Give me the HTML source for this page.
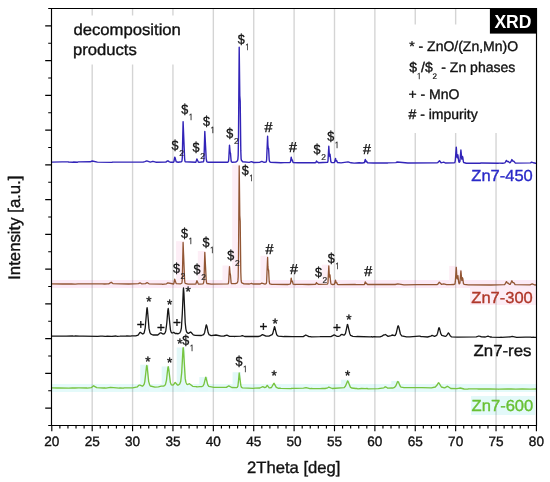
<!DOCTYPE html>
<html><head><meta charset="utf-8"><title>XRD</title>
<style>html,body{margin:0;padding:0;background:#fff;}body{width:550px;height:482px;overflow:hidden;}svg{display:block;}</style>
</head><body>
<svg width="550" height="482" viewBox="0 0 550 482" text-rendering="geometricPrecision">
<rect width="550" height="482" fill="#ffffff"/>
<rect x="52" y="280" width="484" height="8" fill="#fceaf6"/>
<rect x="52" y="384" width="484" height="8" fill="#e4fafa"/>
<rect x="176.1" y="241.2" width="8.0" height="46.0" fill="#fdeef6"/>
<rect x="197.8" y="251.0" width="8.0" height="36.2" fill="#fdeef6"/>
<rect x="222.5" y="265.5" width="8.0" height="21.8" fill="#fdeef6"/>
<rect x="232.2" y="164.5" width="8.0" height="122.8" fill="#fdeef6"/>
<rect x="260.5" y="255.8" width="8.0" height="31.6" fill="#fdeef6"/>
<rect x="321.8" y="264.7" width="8.0" height="22.8" fill="#fdeef6"/>
<rect x="449.2" y="265.9" width="8.0" height="22.0" fill="#fdeef6"/>
<rect x="453.9" y="269.7" width="8.0" height="18.2" fill="#fdeef6"/>
<rect x="140.3" y="364.7" width="8.5" height="26.5" fill="#e2f8f8"/>
<rect x="161.7" y="366.5" width="8.5" height="24.8" fill="#e2f8f8"/>
<rect x="176.7" y="347.5" width="8.5" height="43.8" fill="#e2f8f8"/>
<rect x="199.3" y="377.1" width="8.5" height="14.2" fill="#e2f8f8"/>
<rect x="232.6" y="372.2" width="8.5" height="19.2" fill="#e2f8f8"/>
<rect x="341.1" y="379.7" width="8.5" height="12.0" fill="#e2f8f8"/>
<rect x="391.3" y="380.9" width="8.5" height="10.9" fill="#e2f8f8"/>
<rect x="470" y="288" width="66" height="17" fill="#fdedf5"/>
<rect x="471" y="396" width="64" height="19" fill="#e3f9f9"/>
<line x1="92.19" y1="8.5" x2="92.19" y2="425.5" stroke="#000" stroke-opacity="0.17" stroke-width="1.4"/>
<line x1="132.57" y1="8.5" x2="132.57" y2="425.5" stroke="#000" stroke-opacity="0.17" stroke-width="1.4"/>
<line x1="172.95" y1="8.5" x2="172.95" y2="425.5" stroke="#000" stroke-opacity="0.17" stroke-width="1.4"/>
<line x1="213.34" y1="8.5" x2="213.34" y2="425.5" stroke="#000" stroke-opacity="0.17" stroke-width="1.4"/>
<line x1="253.73" y1="8.5" x2="253.73" y2="425.5" stroke="#000" stroke-opacity="0.17" stroke-width="1.4"/>
<line x1="294.11" y1="8.5" x2="294.11" y2="425.5" stroke="#000" stroke-opacity="0.17" stroke-width="1.4"/>
<line x1="334.50" y1="8.5" x2="334.50" y2="425.5" stroke="#000" stroke-opacity="0.17" stroke-width="1.4"/>
<line x1="374.88" y1="8.5" x2="374.88" y2="425.5" stroke="#000" stroke-opacity="0.17" stroke-width="1.4"/>
<line x1="415.26" y1="8.5" x2="415.26" y2="425.5" stroke="#000" stroke-opacity="0.17" stroke-width="1.4"/>
<line x1="455.65" y1="8.5" x2="455.65" y2="425.5" stroke="#000" stroke-opacity="0.17" stroke-width="1.4"/>
<line x1="496.04" y1="8.5" x2="496.04" y2="425.5" stroke="#000" stroke-opacity="0.17" stroke-width="1.4"/>
<rect x="395" y="24.5" width="140" height="108.5" fill="#fff"/>
<rect x="68" y="15.5" width="120" height="49" fill="#fff"/>
<polyline points="51.8,162.1 62.1,161.9 68.3,161.9 68.6,162.1 73.1,162.2 73.4,162.0 77.6,162.2 78.3,161.9 90.2,161.8 92.2,161.0 97.4,162.1 111.9,162.4 112.5,162.1 143.2,162.1 144.8,161.6 146.8,160.9 150.3,162.1 152.9,161.3 155.8,162.2 165.8,162.1 167.5,160.9 168.1,160.9 169.4,161.8 170.4,162.2 173.6,162.2 173.9,161.7 174.7,157.3 174.9,157.3 176.2,161.8 178.1,162.2 181.4,161.7 181.7,161.5 182.0,160.8 182.3,157.8 183.1,121.6 184.6,158.2 184.9,161.0 185.2,161.7 195.6,162.3 195.9,162.1 196.9,159.0 198.2,161.8 199.1,162.4 203.3,161.8 203.6,161.3 204.0,158.9 204.8,131.4 206.2,158.5 206.6,161.1 206.9,161.8 207.8,162.2 227.9,162.2 228.5,161.3 228.8,158.5 229.5,145.1 230.1,152.1 230.5,153.3 231.1,160.8 231.4,161.8 232.1,162.2 235.6,162.1 236.9,161.3 237.6,160.4 237.9,159.2 238.2,155.1 238.5,136.6 239.2,47.3 239.8,95.7 240.2,101.1 240.8,150.9 241.1,158.6 241.4,160.3 242.7,161.8 249.2,162.4 251.5,161.6 253.7,162.5 259.5,162.4 261.8,161.4 264.1,162.4 266.0,162.0 266.3,161.7 266.6,160.2 267.6,136.3 267.9,145.1 268.3,148.6 268.6,148.5 269.2,159.8 269.6,161.6 270.5,162.3 280.9,162.8 284.1,162.6 289.9,162.5 290.2,162.3 290.6,161.4 291.2,157.2 291.8,160.1 292.2,159.8 293.1,162.5 298.0,162.8 299.6,162.6 309.6,162.8 309.9,162.6 315.4,162.7 315.8,162.5 316.5,161.0 317.0,162.0 317.7,161.9 318.3,162.7 327.4,162.3 327.7,162.1 328.0,160.8 328.8,146.3 329.3,154.6 329.6,156.2 330.0,154.1 330.9,161.9 331.9,162.6 334.2,162.6 334.5,162.3 335.5,158.4 336.1,161.1 336.4,160.6 336.8,160.6 337.4,162.5 341.0,162.9 348.1,161.9 351.0,162.8 354.2,163.1 359.0,162.8 362.3,163.0 363.6,162.8 363.9,162.9 364.5,162.3 365.3,159.5 365.8,161.6 366.2,161.7 366.5,161.1 367.4,162.7 373.6,163.0 380.0,162.9 387.5,163.0 387.8,162.9 395.9,162.6 397.2,162.0 407.8,163.0 436.9,162.9 437.6,162.7 439.5,160.8 441.1,162.7 442.7,162.4 443.7,162.1 445.3,163.0 454.4,162.7 454.7,162.6 455.0,162.0 455.3,160.3 456.3,147.1 456.9,157.0 457.3,157.7 457.6,155.5 457.9,154.8 458.6,160.5 458.9,161.9 459.2,162.2 459.5,162.2 459.9,161.5 460.9,150.0 461.8,159.1 462.4,156.4 462.8,157.3 463.4,161.8 463.7,162.5 466.3,163.2 471.5,163.3 480.5,163.2 480.9,163.0 498.6,163.2 498.9,163.1 502.8,163.3 504.8,162.9 505.4,162.1 506.4,160.4 507.3,161.5 508.3,161.5 509.6,162.7 510.3,162.5 510.9,161.7 511.9,159.6 512.8,161.0 513.8,161.2 515.4,163.1 530.6,162.9 531.6,162.1 533.5,162.8 535.5,163.3 536.4,163.3" fill="none" stroke="#3224b8" stroke-width="1.4" stroke-linejoin="round"/>
<polyline points="51.8,283.8 62.5,284.0 71.5,283.8 75.1,284.1 78.0,283.9 80.2,283.8 82.8,283.9 95.1,283.8 102.2,283.9 104.5,284.0 107.4,283.8 108.7,283.9 111.2,282.2 112.9,283.6 128.7,284.0 138.4,283.6 140.0,282.8 141.6,283.8 145.5,283.6 146.8,282.7 147.4,282.7 149.0,283.8 162.0,284.1 162.3,284.3 166.5,283.8 167.8,282.9 173.6,284.0 173.9,283.5 174.7,279.1 176.2,283.6 180.7,283.8 181.7,283.2 182.0,282.6 182.3,279.4 183.1,242.5 184.6,279.9 184.9,282.7 185.2,283.3 188.1,284.1 195.6,284.0 195.9,283.9 196.2,283.1 196.9,280.7 198.2,283.6 198.5,284.0 199.8,284.2 203.0,283.8 203.6,282.9 204.0,280.5 204.8,252.3 206.2,280.1 206.6,282.9 206.9,283.5 211.1,284.2 227.9,283.9 228.2,283.7 228.5,283.1 228.8,280.2 229.5,266.7 230.1,273.7 230.5,275.0 231.1,282.6 231.4,283.6 235.3,283.7 236.9,283.1 237.6,282.1 237.9,280.9 238.2,276.7 238.5,257.6 239.2,165.8 239.8,215.6 240.2,221.0 240.8,272.3 241.1,280.2 241.4,282.1 241.8,282.8 244.0,283.9 249.5,284.0 251.5,283.3 252.8,284.0 260.2,284.0 261.8,283.1 265.0,284.1 266.0,283.7 266.3,283.5 266.6,281.9 267.6,257.5 267.9,266.4 268.3,270.0 268.6,269.9 269.2,281.5 269.6,283.3 269.9,283.8 271.8,284.3 275.0,284.3 287.6,284.5 289.9,284.2 290.2,284.0 290.6,283.0 291.2,278.1 291.8,281.5 292.2,281.0 292.5,281.7 293.1,284.1 295.4,284.5 296.0,284.3 302.2,284.4 308.6,284.5 315.4,284.4 316.1,283.5 316.5,282.5 317.0,283.7 317.7,283.6 318.3,284.4 327.1,284.2 327.7,283.8 328.0,282.4 328.8,265.9 329.3,275.4 329.6,277.1 330.0,274.8 330.6,281.7 330.9,283.5 331.3,284.2 332.6,284.5 334.2,284.3 334.5,284.1 335.5,280.1 336.1,282.9 336.4,282.4 336.8,282.6 337.4,284.3 338.4,284.6 355.5,284.5 355.8,284.7 364.2,284.5 364.5,284.2 365.3,281.8 365.8,283.4 366.2,283.6 366.5,283.2 367.4,284.5 395.2,284.5 397.8,283.9 404.0,284.8 417.2,284.7 436.9,284.7 437.9,284.2 439.3,282.2 441.4,284.3 443.7,283.9 446.6,284.7 450.2,284.7 454.0,284.5 454.7,284.2 455.0,283.6 455.3,281.7 456.3,267.3 456.9,278.2 457.3,278.9 457.6,276.5 457.9,275.6 458.6,281.8 458.9,283.3 459.2,283.8 459.5,283.7 459.9,283.1 460.9,270.8 461.8,280.5 462.4,277.7 462.8,278.5 463.4,283.4 464.1,284.4 468.3,284.9 490.9,285.0 504.1,284.7 504.8,284.5 506.4,281.6 506.7,281.8 507.3,283.0 507.7,283.1 508.0,283.0 509.6,284.4 510.3,284.3 511.9,280.8 512.8,282.5 513.8,282.7 515.1,284.6 530.0,284.8 532.2,283.8 534.8,285.0 536.4,284.9" fill="none" stroke="#925634" stroke-width="1.3" stroke-linejoin="round"/>
<polyline points="51.8,336.1 66.3,336.2 72.8,336.0 73.1,336.2 74.7,336.2 75.4,335.9 79.3,336.2 80.6,336.2 82.8,336.1 97.7,336.3 100.6,336.2 102.5,336.2 105.1,336.3 106.7,336.3 107.0,336.1 111.6,336.3 111.9,336.4 116.1,336.0 117.1,336.3 120.0,336.2 120.3,336.1 125.8,336.2 126.8,336.0 130.3,336.2 131.9,335.8 135.8,335.8 138.1,335.1 140.0,332.4 140.6,332.4 142.6,334.0 143.6,333.6 144.2,332.6 145.2,328.1 146.8,309.2 147.1,307.7 147.4,309.3 149.0,328.4 150.0,332.8 151.0,334.2 152.9,335.0 156.8,335.0 157.8,335.0 160.4,332.8 161.0,332.9 162.9,334.0 164.2,333.9 165.2,332.6 165.8,330.7 166.8,323.0 167.8,310.6 168.2,308.5 168.4,309.3 170.4,329.6 171.0,331.9 171.7,332.8 172.3,333.0 173.7,332.3 175.2,333.5 177.2,333.5 177.8,333.8 179.7,333.0 180.7,331.2 181.4,328.0 182.3,313.5 183.3,289.7 183.5,287.9 183.9,292.7 185.2,322.7 185.9,329.1 186.5,331.7 187.8,333.2 188.5,333.4 190.5,332.0 191.0,332.3 193.3,334.9 195.2,335.4 201.4,335.5 203.6,334.6 204.6,332.7 206.2,325.0 206.4,324.9 206.9,326.2 208.2,332.8 209.1,334.7 211.1,335.6 215.9,335.0 221.1,336.2 224.0,336.0 226.9,335.2 229.5,336.3 233.7,336.3 234.3,336.5 235.3,336.3 240.8,336.2 242.4,335.7 244.7,336.5 247.6,336.5 258.2,336.5 259.9,336.2 262.4,334.6 263.1,334.8 266.0,336.2 268.9,336.2 272.1,334.7 272.8,333.4 274.5,326.7 274.7,327.0 276.7,334.8 278.3,336.2 283.8,336.7 284.7,336.4 292.5,336.7 303.2,336.6 305.8,335.0 309.0,336.6 310.6,336.6 311.2,336.9 320.0,336.7 320.3,336.6 323.5,336.7 330.9,336.6 334.2,334.9 336.8,336.3 338.7,336.3 339.7,336.0 341.3,334.6 341.9,334.4 343.9,335.2 344.5,334.9 345.5,333.3 347.4,324.5 347.7,324.6 349.7,333.4 350.6,335.4 352.9,336.3 356.5,336.6 356.8,336.5 370.4,336.8 370.7,336.9 371.6,336.7 372.3,337.0 374.2,336.7 376.8,336.8 380.0,336.8 382.0,336.1 383.6,335.0 384.2,335.0 385.4,334.5 388.1,336.4 391.0,335.6 392.1,335.0 394.6,335.7 395.2,335.4 396.2,333.4 397.8,326.4 398.2,325.7 398.8,327.0 400.4,334.0 401.7,335.9 406.5,336.9 409.8,336.8 419.1,336.1 419.8,336.1 421.1,336.7 422.7,336.6 427.5,337.0 430.8,336.1 432.1,335.4 434.6,336.3 436.6,335.4 437.6,333.2 438.8,328.0 439.1,327.7 439.5,328.4 440.8,333.7 441.8,335.4 445.3,336.3 446.0,336.2 446.9,335.1 448.4,332.9 448.9,333.4 450.2,335.8 451.4,336.8 457.6,337.1 476.3,336.9 478.9,336.0 480.2,336.4 481.5,336.9 485.4,337.0 488.0,336.1 490.2,337.0 490.9,336.9 491.8,337.2 499.9,337.3 501.2,337.2 501.5,337.3 510.3,336.9 512.2,336.4 513.2,336.6 516.7,337.3 525.4,337.1 530.9,337.1 531.3,337.3 533.5,337.2 534.5,337.3 536.4,337.3" fill="none" stroke="#161616" stroke-width="1.3" stroke-linejoin="round"/>
<polyline points="51.8,387.9 57.3,388.0 58.9,387.8 68.9,388.1 72.2,387.8 73.8,388.0 75.1,388.0 78.3,387.9 79.6,387.9 86.7,388.0 87.0,388.1 89.6,387.8 91.2,387.7 93.6,385.8 96.7,387.7 103.5,388.0 104.8,387.8 105.8,388.1 110.6,387.3 119.3,388.1 120.0,387.8 123.5,388.1 124.2,387.8 127.1,387.8 132.6,387.8 137.4,386.8 139.0,385.1 140.0,385.2 142.3,386.2 143.2,385.7 144.2,384.2 144.8,381.6 146.5,366.5 146.8,365.4 147.1,366.5 148.7,381.6 149.7,385.0 150.3,386.0 154.9,387.1 158.4,386.8 161.3,386.1 163.3,386.2 164.6,385.7 165.5,384.4 166.5,380.1 167.8,368.2 168.2,366.6 168.8,369.6 170.4,382.6 171.3,384.8 173.0,385.1 173.9,384.2 174.9,382.7 175.2,382.5 177.5,385.0 178.4,385.1 179.7,384.0 180.7,381.5 181.7,372.6 183.0,348.9 183.2,347.6 183.6,351.1 185.2,378.4 185.9,382.2 186.8,384.2 187.8,384.5 189.4,383.7 192.7,386.3 196.2,386.7 196.5,386.6 197.2,386.8 199.8,386.6 201.7,386.6 203.0,386.0 204.0,384.2 205.6,377.6 205.9,377.3 207.8,384.8 208.8,386.4 212.7,387.1 213.7,387.4 226.3,387.3 228.8,385.9 231.8,387.5 236.3,387.7 237.2,387.3 237.9,386.2 238.5,380.7 239.2,373.0 240.8,385.2 241.4,387.2 242.4,387.8 253.4,388.3 255.0,388.1 259.9,388.0 262.8,386.7 264.7,387.6 266.0,387.1 267.0,385.6 267.3,385.4 269.2,387.8 269.9,387.9 271.5,387.5 273.8,383.4 274.1,383.3 276.3,387.3 278.6,388.3 279.6,388.1 280.9,388.4 291.2,388.6 291.5,388.4 295.7,388.4 303.5,388.2 306.1,387.6 309.9,388.6 311.9,388.5 312.2,388.6 320.3,388.6 322.2,388.4 325.1,388.5 327.7,387.8 328.8,387.1 332.2,388.5 344.2,387.6 345.5,386.0 347.6,380.9 348.1,381.4 350.3,387.1 351.6,388.0 355.8,388.5 357.1,388.5 357.8,388.8 361.6,388.5 365.2,388.7 367.1,388.5 368.1,388.8 378.4,388.6 383.9,387.8 384.9,387.0 385.5,386.8 386.5,387.3 387.8,388.2 392.0,387.9 392.6,388.1 394.6,387.3 395.9,385.8 397.5,381.7 397.8,381.5 398.5,382.3 400.1,386.0 401.0,387.1 404.0,387.7 404.3,387.6 411.7,387.7 422.0,387.6 431.4,387.8 435.3,387.0 436.9,385.3 438.2,383.1 438.6,382.8 439.2,383.3 441.4,387.0 444.3,387.9 445.0,387.6 445.3,387.6 447.3,386.3 448.2,386.7 450.8,388.5 456.9,388.6 458.2,388.3 458.9,388.4 460.2,388.0 464.1,389.0 467.9,389.1 468.3,388.9 477.0,388.8 478.6,389.0 490.2,389.0 498.3,389.1 498.6,389.3 498.9,389.1 507.7,388.9 508.6,389.0 511.2,388.9 515.7,389.1 522.2,389.0 530.0,389.1 530.6,389.2 536.1,389.0 536.4,389.2" fill="none" stroke="#78c440" stroke-width="1.35" stroke-linejoin="round"/>
<path d="M51.5,8.5 H536.5 V425.5 H51.5 Z" fill="none" stroke="#000" stroke-width="1.15"/>
<path d="M48.2,8.50H51.5 M45.2,25.88H51.5 M48.2,43.25H51.5 M45.2,60.62H51.5 M48.2,78.00H51.5 M45.2,95.38H51.5 M48.2,112.75H51.5 M45.2,130.12H51.5 M48.2,147.50H51.5 M45.2,164.88H51.5 M48.2,182.25H51.5 M45.2,199.62H51.5 M48.2,217.00H51.5 M45.2,234.38H51.5 M48.2,251.75H51.5 M45.2,269.12H51.5 M48.2,286.50H51.5 M45.2,303.88H51.5 M48.2,321.25H51.5 M45.2,338.62H51.5 M48.2,356.00H51.5 M45.2,373.38H51.5 M48.2,390.75H51.5 M45.2,408.12H51.5 M48.2,425.50H51.5 M51.80,425.5V431.3 M59.88,425.5V428.5 M67.95,425.5V428.5 M76.03,425.5V428.5 M84.11,425.5V428.5 M92.19,425.5V431.3 M100.26,425.5V428.5 M108.34,425.5V428.5 M116.42,425.5V428.5 M124.49,425.5V428.5 M132.57,425.5V431.3 M140.65,425.5V428.5 M148.72,425.5V428.5 M156.80,425.5V428.5 M164.88,425.5V428.5 M172.95,425.5V431.3 M181.03,425.5V428.5 M189.11,425.5V428.5 M197.19,425.5V428.5 M205.26,425.5V428.5 M213.34,425.5V431.3 M221.42,425.5V428.5 M229.49,425.5V428.5 M237.57,425.5V428.5 M245.65,425.5V428.5 M253.73,425.5V431.3 M261.80,425.5V428.5 M269.88,425.5V428.5 M277.96,425.5V428.5 M286.03,425.5V428.5 M294.11,425.5V431.3 M302.19,425.5V428.5 M310.26,425.5V428.5 M318.34,425.5V428.5 M326.42,425.5V428.5 M334.50,425.5V431.3 M342.57,425.5V428.5 M350.65,425.5V428.5 M358.73,425.5V428.5 M366.80,425.5V428.5 M374.88,425.5V431.3 M382.96,425.5V428.5 M391.03,425.5V428.5 M399.11,425.5V428.5 M407.19,425.5V428.5 M415.26,425.5V431.3 M423.34,425.5V428.5 M431.42,425.5V428.5 M439.50,425.5V428.5 M447.57,425.5V428.5 M455.65,425.5V431.3 M463.73,425.5V428.5 M471.80,425.5V428.5 M479.88,425.5V428.5 M487.96,425.5V428.5 M496.04,425.5V431.3 M504.11,425.5V428.5 M512.19,425.5V428.5 M520.27,425.5V428.5 M528.34,425.5V428.5 M536.42,425.5V431.3" stroke="#000" stroke-width="1.15" fill="none"/>
<text x="51.80" y="446.2" font-family="Liberation Sans, Arial, sans-serif" font-size="13.6" text-anchor="middle" fill="#111" stroke="#111" stroke-width="0.35">20</text>
<text x="92.19" y="446.2" font-family="Liberation Sans, Arial, sans-serif" font-size="13.6" text-anchor="middle" fill="#111" stroke="#111" stroke-width="0.35">25</text>
<text x="132.57" y="446.2" font-family="Liberation Sans, Arial, sans-serif" font-size="13.6" text-anchor="middle" fill="#111" stroke="#111" stroke-width="0.35">30</text>
<text x="172.95" y="446.2" font-family="Liberation Sans, Arial, sans-serif" font-size="13.6" text-anchor="middle" fill="#111" stroke="#111" stroke-width="0.35">35</text>
<text x="213.34" y="446.2" font-family="Liberation Sans, Arial, sans-serif" font-size="13.6" text-anchor="middle" fill="#111" stroke="#111" stroke-width="0.35">40</text>
<text x="253.73" y="446.2" font-family="Liberation Sans, Arial, sans-serif" font-size="13.6" text-anchor="middle" fill="#111" stroke="#111" stroke-width="0.35">45</text>
<text x="294.11" y="446.2" font-family="Liberation Sans, Arial, sans-serif" font-size="13.6" text-anchor="middle" fill="#111" stroke="#111" stroke-width="0.35">50</text>
<text x="334.50" y="446.2" font-family="Liberation Sans, Arial, sans-serif" font-size="13.6" text-anchor="middle" fill="#111" stroke="#111" stroke-width="0.35">55</text>
<text x="374.88" y="446.2" font-family="Liberation Sans, Arial, sans-serif" font-size="13.6" text-anchor="middle" fill="#111" stroke="#111" stroke-width="0.35">60</text>
<text x="415.26" y="446.2" font-family="Liberation Sans, Arial, sans-serif" font-size="13.6" text-anchor="middle" fill="#111" stroke="#111" stroke-width="0.35">65</text>
<text x="455.65" y="446.2" font-family="Liberation Sans, Arial, sans-serif" font-size="13.6" text-anchor="middle" fill="#111" stroke="#111" stroke-width="0.35">70</text>
<text x="496.04" y="446.2" font-family="Liberation Sans, Arial, sans-serif" font-size="13.6" text-anchor="middle" fill="#111" stroke="#111" stroke-width="0.35">75</text>
<text x="536.42" y="446.2" font-family="Liberation Sans, Arial, sans-serif" font-size="13.6" text-anchor="middle" fill="#111" stroke="#111" stroke-width="0.35">80</text>
<text x="247.0" y="473.1" font-family="Liberation Sans, Arial, sans-serif" font-size="16.5" fill="#111" stroke="#111" stroke-width="0.35" textLength="93.5" lengthAdjust="spacingAndGlyphs">2Theta [deg]</text>
<text transform="translate(19.9,279.8) rotate(-90)" font-family="Liberation Sans, Arial, sans-serif" font-size="16.8" fill="#111" stroke="#111" stroke-width="0.35" textLength="104.3" lengthAdjust="spacingAndGlyphs">Intensity [a.u.]</text>
<text x="73.4" y="35.3" font-family="Liberation Sans, Arial, sans-serif" font-size="16" fill="#111" stroke="#111" stroke-width="0.35" textLength="107.5" lengthAdjust="spacingAndGlyphs">decomposition</text>
<text x="73.0" y="55.4" font-family="Liberation Sans, Arial, sans-serif" font-size="16" fill="#111" stroke="#111" stroke-width="0.35" textLength="63.8" lengthAdjust="spacingAndGlyphs">products</text>
<rect x="489.9" y="8.1" width="47" height="25.5" fill="#000"/>
<text x="494.4" y="28.0" font-family="Liberation Sans, Arial, sans-serif" font-size="19" font-weight="bold" fill="#fff" textLength="37" lengthAdjust="spacingAndGlyphs">XRD</text>
<text x="409.2" y="51.4" font-family="Liberation Sans, Arial, sans-serif" font-size="14" fill="#111" stroke="#111" stroke-width="0.35">* - ZnO/(Zn,Mn)O</text>
<text x="409.3" y="71.6" font-family="Liberation Sans, Arial, sans-serif" font-size="14" fill="#111" stroke="#111" stroke-width="0.35">$</text>
<text x="416.4" y="78.7" font-family="NanumGothic, Liberation Sans, sans-serif" font-size="8.2" fill="#111" stroke="#111" stroke-width="0.2">1</text>
<text x="421.1" y="71.6" font-family="Liberation Sans, Arial, sans-serif" font-size="14" fill="#111" stroke="#111" stroke-width="0.35">/$</text>
<text x="432.5" y="79.0" font-family="Liberation Sans, Arial, sans-serif" font-size="8" fill="#111" stroke="#111" stroke-width="0.2">2</text>
<text x="441.3" y="71.6" font-family="Liberation Sans, Arial, sans-serif" font-size="14" fill="#111" stroke="#111" stroke-width="0.35" textLength="74" lengthAdjust="spacingAndGlyphs">- Zn phases</text>
<text x="408.4" y="99.0" font-family="Liberation Sans, Arial, sans-serif" font-size="14" fill="#111" stroke="#111" stroke-width="0.35">+ - MnO</text>
<text x="408.5" y="118.6" font-family="Liberation Sans, Arial, sans-serif" font-size="14" fill="#111" stroke="#111" stroke-width="0.35"># - impurity</text>
<text x="471.3" y="181.1" font-family="Liberation Sans, Arial, sans-serif" font-size="16" fill="#2a2ac8" stroke="#2a2ac8" stroke-width="0.35" textLength="61.5" lengthAdjust="spacingAndGlyphs">Zn7-450</text>
<text x="471.3" y="303.4" font-family="Liberation Sans, Arial, sans-serif" font-size="16" fill="#b0382a" stroke="#b0382a" stroke-width="0.35" textLength="61.5" lengthAdjust="spacingAndGlyphs">Zn7-300</text>
<text x="473.5" y="355.8" font-family="Liberation Sans, Arial, sans-serif" font-size="16" fill="#111" stroke="#111" stroke-width="0.35" textLength="58" lengthAdjust="spacingAndGlyphs">Zn7-res</text>
<text x="471.6" y="410.7" font-family="Liberation Sans, Arial, sans-serif" font-size="16" fill="#68c034" stroke="#68c034" stroke-width="0.35" textLength="61.7" lengthAdjust="spacingAndGlyphs">Zn7-600</text>
<text x="237.7" y="43.6" font-family="Liberation Sans, Arial, sans-serif" font-size="13.8" fill="#111" stroke="#111" stroke-width="0.35" textLength="7.0" lengthAdjust="spacingAndGlyphs">$</text>
<text x="244.7" y="49.9" font-family="NanumGothic, Liberation Sans, sans-serif" font-size="8.4" fill="#222" stroke="#222" stroke-width="0.2">1</text>
<text x="171.5" y="150.1" font-family="Liberation Sans, Arial, sans-serif" font-size="13.8" fill="#111" stroke="#111" stroke-width="0.35" textLength="7.0" lengthAdjust="spacingAndGlyphs">$</text>
<text x="179.2" y="156.4" font-family="Liberation Sans, Arial, sans-serif" font-size="8.4" fill="#222" stroke="#222" stroke-width="0.2">2</text>
<text x="181.3" y="114.1" font-family="Liberation Sans, Arial, sans-serif" font-size="13.8" fill="#111" stroke="#111" stroke-width="0.35" textLength="7.0" lengthAdjust="spacingAndGlyphs">$</text>
<text x="188.3" y="120.4" font-family="NanumGothic, Liberation Sans, sans-serif" font-size="8.4" fill="#222" stroke="#222" stroke-width="0.2">1</text>
<text x="192.5" y="152.3" font-family="Liberation Sans, Arial, sans-serif" font-size="13.8" fill="#111" stroke="#111" stroke-width="0.35" textLength="7.0" lengthAdjust="spacingAndGlyphs">$</text>
<text x="200.2" y="158.6" font-family="Liberation Sans, Arial, sans-serif" font-size="8.4" fill="#222" stroke="#222" stroke-width="0.2">2</text>
<text x="203.1" y="126.3" font-family="Liberation Sans, Arial, sans-serif" font-size="13.8" fill="#111" stroke="#111" stroke-width="0.35" textLength="7.0" lengthAdjust="spacingAndGlyphs">$</text>
<text x="210.1" y="132.6" font-family="NanumGothic, Liberation Sans, sans-serif" font-size="8.4" fill="#222" stroke="#222" stroke-width="0.2">1</text>
<text x="226.3" y="137.7" font-family="Liberation Sans, Arial, sans-serif" font-size="13.8" fill="#111" stroke="#111" stroke-width="0.35" textLength="7.0" lengthAdjust="spacingAndGlyphs">$</text>
<text x="234.0" y="144.0" font-family="Liberation Sans, Arial, sans-serif" font-size="8.4" fill="#222" stroke="#222" stroke-width="0.2">2</text>
<text x="313.6" y="154.0" font-family="Liberation Sans, Arial, sans-serif" font-size="13.8" fill="#111" stroke="#111" stroke-width="0.35" textLength="7.0" lengthAdjust="spacingAndGlyphs">$</text>
<text x="321.3" y="160.3" font-family="Liberation Sans, Arial, sans-serif" font-size="8.4" fill="#222" stroke="#222" stroke-width="0.2">2</text>
<text x="327.2" y="141.4" font-family="Liberation Sans, Arial, sans-serif" font-size="13.8" fill="#111" stroke="#111" stroke-width="0.35" textLength="7.0" lengthAdjust="spacingAndGlyphs">$</text>
<text x="334.2" y="147.7" font-family="NanumGothic, Liberation Sans, sans-serif" font-size="8.4" fill="#222" stroke="#222" stroke-width="0.2">1</text>
<text x="264.4" y="131.6" font-family="Liberation Sans, Arial, sans-serif" font-size="14.3" fill="#111" stroke="#111" stroke-width="0.35">#</text>
<text x="289.0" y="151.6" font-family="Liberation Sans, Arial, sans-serif" font-size="14.3" fill="#111" stroke="#111" stroke-width="0.35">#</text>
<text x="362.9" y="154.0" font-family="Liberation Sans, Arial, sans-serif" font-size="14.3" fill="#111" stroke="#111" stroke-width="0.35">#</text>
<text x="172.9" y="272.6" font-family="Liberation Sans, Arial, sans-serif" font-size="13.8" fill="#111" stroke="#111" stroke-width="0.35" textLength="7.0" lengthAdjust="spacingAndGlyphs">$</text>
<text x="180.6" y="278.9" font-family="Liberation Sans, Arial, sans-serif" font-size="8.4" fill="#222" stroke="#222" stroke-width="0.2">2</text>
<text x="180.9" y="237.5" font-family="Liberation Sans, Arial, sans-serif" font-size="13.8" fill="#111" stroke="#111" stroke-width="0.35" textLength="7.0" lengthAdjust="spacingAndGlyphs">$</text>
<text x="187.9" y="243.8" font-family="NanumGothic, Liberation Sans, sans-serif" font-size="8.4" fill="#222" stroke="#222" stroke-width="0.2">1</text>
<text x="193.6" y="274.0" font-family="Liberation Sans, Arial, sans-serif" font-size="13.8" fill="#111" stroke="#111" stroke-width="0.35" textLength="7.0" lengthAdjust="spacingAndGlyphs">$</text>
<text x="201.3" y="280.3" font-family="Liberation Sans, Arial, sans-serif" font-size="8.4" fill="#222" stroke="#222" stroke-width="0.2">2</text>
<text x="202.4" y="246.6" font-family="Liberation Sans, Arial, sans-serif" font-size="13.8" fill="#111" stroke="#111" stroke-width="0.35" textLength="7.0" lengthAdjust="spacingAndGlyphs">$</text>
<text x="209.4" y="252.9" font-family="NanumGothic, Liberation Sans, sans-serif" font-size="8.4" fill="#222" stroke="#222" stroke-width="0.2">1</text>
<text x="227.2" y="260.0" font-family="Liberation Sans, Arial, sans-serif" font-size="13.8" fill="#111" stroke="#111" stroke-width="0.35" textLength="7.0" lengthAdjust="spacingAndGlyphs">$</text>
<text x="234.9" y="266.3" font-family="Liberation Sans, Arial, sans-serif" font-size="8.4" fill="#222" stroke="#222" stroke-width="0.2">2</text>
<text x="241.8" y="174.5" font-family="Liberation Sans, Arial, sans-serif" font-size="13.8" fill="#111" stroke="#111" stroke-width="0.35" textLength="7.0" lengthAdjust="spacingAndGlyphs">$</text>
<text x="248.8" y="180.8" font-family="NanumGothic, Liberation Sans, sans-serif" font-size="8.4" fill="#222" stroke="#222" stroke-width="0.2">1</text>
<text x="314.9" y="276.5" font-family="Liberation Sans, Arial, sans-serif" font-size="13.8" fill="#111" stroke="#111" stroke-width="0.35" textLength="7.0" lengthAdjust="spacingAndGlyphs">$</text>
<text x="322.6" y="282.8" font-family="Liberation Sans, Arial, sans-serif" font-size="8.4" fill="#222" stroke="#222" stroke-width="0.2">2</text>
<text x="327.7" y="262.9" font-family="Liberation Sans, Arial, sans-serif" font-size="13.8" fill="#111" stroke="#111" stroke-width="0.35" textLength="7.0" lengthAdjust="spacingAndGlyphs">$</text>
<text x="334.7" y="269.2" font-family="NanumGothic, Liberation Sans, sans-serif" font-size="8.4" fill="#222" stroke="#222" stroke-width="0.2">1</text>
<text x="265.6" y="253.5" font-family="Liberation Sans, Arial, sans-serif" font-size="14.3" fill="#111" stroke="#111" stroke-width="0.35">#</text>
<text x="290.1" y="273.7" font-family="Liberation Sans, Arial, sans-serif" font-size="14.3" fill="#111" stroke="#111" stroke-width="0.35">#</text>
<text x="364.2" y="275.6" font-family="Liberation Sans, Arial, sans-serif" font-size="14.3" fill="#111" stroke="#111" stroke-width="0.35">#</text>
<text x="136.8" y="328.7" font-family="Liberation Sans, Arial, sans-serif" font-size="13.5" fill="#111" stroke="#111" stroke-width="0.35">+</text>
<text x="146.3" y="305.7" font-family="Liberation Sans, Arial, sans-serif" font-size="13.5" fill="#111" stroke="#111" stroke-width="0.35">*</text>
<text x="157.1" y="332.3" font-family="Liberation Sans, Arial, sans-serif" font-size="13.5" fill="#111" stroke="#111" stroke-width="0.35">+</text>
<text x="167.0" y="308.5" font-family="Liberation Sans, Arial, sans-serif" font-size="13.5" fill="#111" stroke="#111" stroke-width="0.35">*</text>
<text x="173.1" y="326.9" font-family="Liberation Sans, Arial, sans-serif" font-size="13.5" fill="#111" stroke="#111" stroke-width="0.35">+</text>
<text x="185.6" y="295.7" font-family="Liberation Sans, Arial, sans-serif" font-size="13.5" fill="#111" stroke="#111" stroke-width="0.35">*</text>
<text x="259.4" y="331.3" font-family="Liberation Sans, Arial, sans-serif" font-size="13.5" fill="#111" stroke="#111" stroke-width="0.35">+</text>
<text x="272.5" y="328.2" font-family="Liberation Sans, Arial, sans-serif" font-size="13.5" fill="#111" stroke="#111" stroke-width="0.35">*</text>
<text x="333.0" y="332.1" font-family="Liberation Sans, Arial, sans-serif" font-size="13.5" fill="#111" stroke="#111" stroke-width="0.35">+</text>
<text x="346.2" y="324.0" font-family="Liberation Sans, Arial, sans-serif" font-size="13.5" fill="#111" stroke="#111" stroke-width="0.35">*</text>
<text x="145.2" y="365.8" font-family="Liberation Sans, Arial, sans-serif" font-size="13.5" fill="#111" stroke="#111" stroke-width="0.35">*</text>
<text x="167.0" y="367.2" font-family="Liberation Sans, Arial, sans-serif" font-size="13.5" fill="#111" stroke="#111" stroke-width="0.35">*</text>
<text x="177.2" y="347.6" font-family="Liberation Sans, Arial, sans-serif" font-size="13.5" fill="#111" stroke="#111" stroke-width="0.35">*</text>
<text x="271.6" y="380.4" font-family="Liberation Sans, Arial, sans-serif" font-size="13.5" fill="#111" stroke="#111" stroke-width="0.35">*</text>
<text x="344.9" y="379.9" font-family="Liberation Sans, Arial, sans-serif" font-size="13.5" fill="#111" stroke="#111" stroke-width="0.35">*</text>
<text x="182.3" y="344.7" font-family="Liberation Sans, Arial, sans-serif" font-size="13.8" fill="#111" stroke="#111" stroke-width="0.35" textLength="7.0" lengthAdjust="spacingAndGlyphs">$</text>
<text x="189.3" y="351.0" font-family="NanumGothic, Liberation Sans, sans-serif" font-size="8.4" fill="#222" stroke="#222" stroke-width="0.2">1</text>
<text x="235.5" y="365.5" font-family="Liberation Sans, Arial, sans-serif" font-size="13.8" fill="#111" stroke="#111" stroke-width="0.35" textLength="7.0" lengthAdjust="spacingAndGlyphs">$</text>
<text x="242.5" y="371.8" font-family="NanumGothic, Liberation Sans, sans-serif" font-size="8.4" fill="#222" stroke="#222" stroke-width="0.2">1</text>
</svg>
</body></html>
